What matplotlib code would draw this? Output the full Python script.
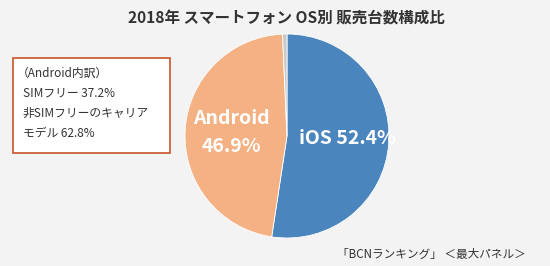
import matplotlib
matplotlib.use("Agg")
import matplotlib.pyplot as plt
from matplotlib.patches import Rectangle

plt.rcParams['font.family'] = ['Noto Sans CJK JP', 'DejaVu Sans']

title = "2018年 スマートフォン OS別 販売台数構成比"
labels = ["iOS", "Android", "その他"]
shares = [52.4, 46.9, 0.7]
colors = ["#4a85be", "#f4b183", "#c9c9c9"]
note_lines = ["（Android内訳）", "SIMフリー 37.2%", "非SIMフリーのキャリア", "モデル 62.8%"]
source = "「BCNランキング」 ＜最大パネル＞"

fig = plt.figure(figsize=(5.5, 2.66), dpi=100)
fig.patch.set_facecolor("#f3f3f3")

# pie: centre ~ (287,136) px, radius ~102 px
r = 102
ax = fig.add_axes([(287 - r) / 550, (266 - 136 - r) / 266, 2 * r / 550, 2 * r / 266])
ax.pie(shares, colors=colors, startangle=90, counterclock=False,
       wedgeprops=dict(edgecolor="white", linewidth=0.6))
ax.set_xlim(-1, 1)
ax.set_ylim(-1, 1)
ax.set_aspect("equal")
ax.axis("off")

fig.text(347 / 550, 1 - 139 / 266, f"{labels[0]} {shares[0]}%", color="white",
         fontsize=14, fontweight="bold", ha="center", va="center")
fig.text(231 / 550, 1 - 133 / 266, f"{labels[1]}\n{shares[1]}%", color="white",
         fontsize=14, fontweight="bold", ha="center", va="center", linespacing=1.6)

fig.text(286 / 550, 1 - 18 / 266, title, fontsize=11.2, fontweight="bold",
         color="#333333", ha="center", va="center")

# note box
box = Rectangle((12.5 / 550, 1 - 153 / 266), 157 / 550, 95 / 266, transform=fig.transFigure,
                facecolor="white", edgecolor="#c8542a", linewidth=1.2)
fig.patches.append(box)
ys = [73, 93, 113, 133]
for i, (line, y) in enumerate(zip(note_lines, ys)):
    x = 17 if i == 0 else 23
    fig.text(x / 550, 1 - y / 266, line, fontsize=8.5, color="#333333",
             ha="left", va="center")

fig.text(526 / 550, 1 - 254 / 266, source, fontsize=8.4, color="#333333",
         ha="right", va="center")

fig.savefig("out.png", dpi=100, facecolor=fig.get_facecolor())
